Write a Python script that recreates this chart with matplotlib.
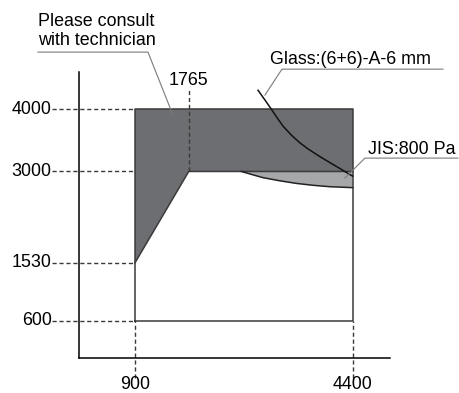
import matplotlib.pyplot as plt

plt.rcParams['font.family'] = ['Liberation Sans', 'DejaVu Sans']

# performance window limits
x_ticks = [900, 1765, 4400]
y_ticks = [600, 1530, 3000, 4000]

# dark region: "please consult" zone
dark_x = [900, 900, 4400, 4400, 1765]
dark_y = [1530, 4000, 4000, 3000, 3000]

# light region below JIS 800 Pa line
jis_x = [2612, 2800, 2960, 3230, 3495, 3760, 4030, 4400]
jis_y = [3000, 2945, 2900, 2850, 2808, 2778, 2755, 2740]

# glass curve (6+6)-A-6 mm
glass_x = [2879, 2990, 3094, 3185, 3280, 3410, 3548, 3680, 3817, 3950, 4083, 4220, 4350, 4400]
glass_y = [4306, 4150, 4000, 3865, 3731, 3590, 3464, 3365, 3275, 3193, 3114, 3033, 2953, 2926]

dark = '#6d6e71'
light = '#a6a7a9'
edge = '#3a3a3a'
lead = '#7a7a7a'

fig = plt.figure(figsize=(4.6, 3.93), dpi=100)
ax = fig.add_axes([0.1717, 0.0891, 0.676, 0.7277])
ax.set_xlim(0, 5000)
ax.set_ylim(0, 4600)
ax.spines['top'].set_visible(False)
ax.spines['right'].set_visible(False)
ax.spines['left'].set_linewidth(1.1)
ax.spines['bottom'].set_linewidth(1.1)
ax.set_xticks([])
ax.set_yticks([])

# shaded regions
ax.fill(dark_x, dark_y, color=dark, lw=0)
ax.fill(jis_x + [4400], jis_y + [3000], color=light, lw=0)

# outline of the window
ax.plot([900, 900, 4400, 4400, 900], [600, 4000, 4000, 600, 600], color=edge, lw=1.1)
ax.plot([900, 1765, 4400], [1530, 3000, 3000], color=edge, lw=1.1)
ax.plot(jis_x, jis_y, color='#222222', lw=1.1)
ax.plot(glass_x, glass_y, color='#111111', lw=1.1)

# dashed guide lines
dash = dict(color=edge, lw=1.0, ls=(0, (3, 2)), clip_on=False)
for y in y_ticks:
    ax.plot([-434, 900], [y, y], **dash)
for x in [900, 4400]:
    ax.plot([x, x], [-322, 600], **dash)
ax.plot([1765, 1765], [3000, 4322], **dash)

# tick labels
fs = 12.9
for y in y_ticks:
    ax.text(-440, y, str(y), ha='right', va='center', fontsize=fs, clip_on=False)
for x in [900, 4400]:
    ax.text(x, -430, str(x), ha='center', va='center', fontsize=fs, clip_on=False)
ax.text(1765, 4460, '1765', ha='center', va='center', fontsize=fs, clip_on=False)

# callouts
ax.text(-659, 5260, 'Please consult\nwith technician', ha='left', va='center',
        fontsize=fs, linespacing=1.2, clip_on=False)
ax.plot([-659, 1109, 1511], [4920, 4920, 3907], color=lead, lw=0.8, clip_on=False)

ax.text(3071, 4800, 'Glass:(6+6)-A-6 mm', ha='left', va='center', fontsize=fs, clip_on=False)
ax.plot([5852, 3264, 2990], [4646, 4646, 4228], color=lead, lw=0.8, clip_on=False)

ax.text(4646, 3350, 'JIS:800 Pa', ha='left', va='center', fontsize=fs, clip_on=False)
ax.plot([6093, 4598, 4276], [3215, 3215, 2894], color=lead, lw=0.8, clip_on=False)

fig.savefig('out.png', dpi=100)
